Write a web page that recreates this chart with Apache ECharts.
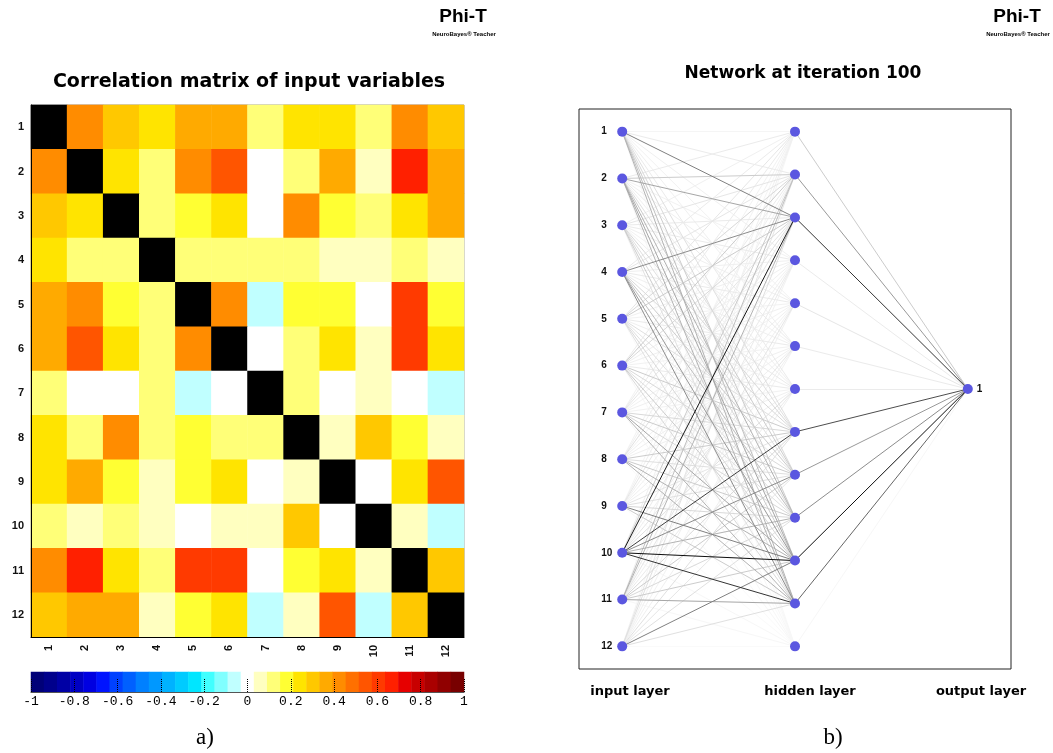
<!DOCTYPE html>
<html>
<head>
<meta charset="utf-8">
<script src="https://cdn.jsdelivr.net/npm/echarts@6/dist/echarts.min.js"></script>
<style>
html,body{margin:0;padding:0;background:#fff;}
#chart{width:1053px;height:753px;}
</style>
</head>
<body>
<div id="chart"></div>
<script>
// ---------- DATA ----------
const variableLabels = ['1','2','3','4','5','6','7','8','9','10','11','12'];

// estimated correlation coefficients (row = variable on y axis, top to bottom)
const correlations = [
  [1.00, 0.42, 0.30, 0.24, 0.36, 0.36, 0.12, 0.24, 0.24, 0.12, 0.42, 0.30],
  [0.42, 1.00, 0.24, 0.12, 0.42, 0.55, 0.00, 0.12, 0.36, 0.06, 0.67, 0.36],
  [0.30, 0.24, 1.00, 0.12, 0.18, 0.24, 0.00, 0.42, 0.18, 0.12, 0.24, 0.36],
  [0.24, 0.12, 0.12, 1.00, 0.12, 0.12, 0.12, 0.12, 0.06, 0.06, 0.12, 0.06],
  [0.36, 0.42, 0.18, 0.12, 1.00, 0.42, -0.06, 0.18, 0.18, 0.00, 0.61, 0.18],
  [0.36, 0.55, 0.24, 0.12, 0.42, 1.00, 0.00, 0.12, 0.24, 0.06, 0.61, 0.24],
  [0.12, 0.00, 0.00, 0.12, -0.06, 0.00, 1.00, 0.12, 0.00, 0.06, 0.00, -0.06],
  [0.24, 0.12, 0.42, 0.12, 0.18, 0.12, 0.12, 1.00, 0.06, 0.30, 0.18, 0.06],
  [0.24, 0.36, 0.18, 0.06, 0.18, 0.24, 0.00, 0.06, 1.00, 0.00, 0.24, 0.55],
  [0.12, 0.06, 0.12, 0.06, 0.00, 0.06, 0.06, 0.30, 0.00, 1.00, 0.06, -0.06],
  [0.42, 0.67, 0.24, 0.12, 0.61, 0.61, 0.00, 0.18, 0.24, 0.06, 1.00, 0.30],
  [0.30, 0.36, 0.36, 0.06, 0.18, 0.24, -0.06, 0.06, 0.55, -0.06, 0.30, 1.00]
];

// colour scale (-1 .. 1 in 33 steps)
const paletteColors = ['#000078','#00008c','#0000a5','#0000c3','#0000e1','#0014ff','#0041ff','#0060ff','#0080ff','#0098ff','#00b2ff','#00cbff','#00e6ff','#40ffff','#80ffff','#c0ffff','#ffffff',
  '#ffffc0','#ffff78','#ffff33','#ffe400','#ffc800','#ffaa00','#ff8c00','#ff7000','#ff5500','#ff3a00','#ff2000','#e60000','#c80000','#aa0000','#900000','#780000'];

// network
const inputNodeLabels = ['1','2','3','4','5','6','7','8','9','10','11','12'];
const hiddenNodeCount = 13;
const outputNodeLabels = ['1'];
const layerNames = ['input layer', 'hidden layer', 'output layer'];
// connection strength (0 = invisible, 1 = black), input i -> hidden j
const inputHiddenWeights = [
  [0.04, 0.08, 0.50, 0.06, 0.05, 0.06, 0.08, 0.12, 0.15, 0.20, 0.25, 0.30, 0.03],
  [0.08, 0.20, 0.35, 0.05, 0.06, 0.08, 0.06, 0.12, 0.20, 0.30, 0.35, 0.30, 0.03],
  [0.06, 0.10, 0.08, 0.08, 0.06, 0.05, 0.06, 0.15, 0.12, 0.15, 0.20, 0.12, 0.02],
  [0.08, 0.10, 0.45, 0.06, 0.08, 0.06, 0.08, 0.15, 0.20, 0.25, 0.40, 0.45, 0.03],
  [0.10, 0.15, 0.20, 0.06, 0.05, 0.08, 0.06, 0.12, 0.10, 0.12, 0.15, 0.12, 0.02],
  [0.08, 0.20, 0.15, 0.06, 0.06, 0.05, 0.08, 0.20, 0.15, 0.12, 0.20, 0.15, 0.03],
  [0.05, 0.08, 0.10, 0.06, 0.05, 0.06, 0.05, 0.15, 0.20, 0.15, 0.35, 0.30, 0.03],
  [0.05, 0.06, 0.12, 0.05, 0.06, 0.06, 0.06, 0.20, 0.12, 0.20, 0.30, 0.30, 0.02],
  [0.04, 0.06, 0.10, 0.06, 0.05, 0.06, 0.06, 0.10, 0.12, 0.15, 0.50, 0.20, 0.02],
  [0.06, 0.20, 0.90, 0.08, 0.06, 0.10, 0.12, 0.75, 0.45, 0.30, 0.95, 0.80, 0.03],
  [0.06, 0.25, 0.30, 0.08, 0.10, 0.06, 0.08, 0.15, 0.20, 0.15, 0.20, 0.35, 0.03],
  [0.04, 0.10, 0.12, 0.05, 0.06, 0.05, 0.06, 0.12, 0.10, 0.12, 0.50, 0.12, 0.02]
];
const hiddenOutputWeights = [0.20, 0.40, 0.80, 0.08, 0.10, 0.08, 0.08, 0.70, 0.40, 0.45, 0.95, 0.60, 0.03];

// ---------- BUILD ----------
const chart = echarts.init(document.getElementById('chart'), null, {renderer: 'canvas'});

const heatData = [];
correlations.forEach((row, r) => row.forEach((v, c) => heatData.push([c, r, v])));

const nBins = paletteColors.length;
const binPieces = paletteColors.map((col, k) => {
  const lo = -1 + k * 2 / nBins, hi = -1 + (k + 1) * 2 / nBins;
  return k === nBins - 1 ? {gte: lo, lt: 1, color: col} : {gte: lo, lt: hi, color: col};
});
binPieces.push({value: 1, color: '#000000'});

const colorbarData = paletteColors.map((c, k) => [k, 0, k]);
const colorbarPieces = paletteColors.map((c, k) => ({value: k, color: c}));

function grey(d) {
  const g = Math.round(255 * (1 - d));
  return 'rgb(' + g + ',' + g + ',' + g + ')';
}

const fontSans = 'Liberation Sans, Arial, Helvetica, sans-serif';
const fontWide = 'DejaVu Sans, Verdana, sans-serif';

const nodes = [];
inputNodeLabels.forEach((lab, i) => nodes.push({
  name: 'in' + i, value: [0, i / (inputNodeLabels.length - 1)],
  label: {show: true, formatter: lab, position: [-16, 5], align: 'left', verticalAlign: 'middle',
    fontSize: 10, fontWeight: 'bold', color: '#111', fontFamily: fontSans}
}));
for (let j = 0; j < hiddenNodeCount; j++) {
  nodes.push({name: 'hid' + j, value: [1, j / (hiddenNodeCount - 1)], label: {show: false}});
}
outputNodeLabels.forEach((lab, k) => nodes.push({
  name: 'out' + k, value: [2, 0.5],
  label: {show: true, formatter: lab, position: 'right', distance: 4, fontSize: 10, fontWeight: 'bold', color: '#111', fontFamily: fontSans}
}));

let links = [];
inputHiddenWeights.forEach((row, i) => row.forEach((w, j) => links.push({source: 'in' + i, target: 'hid' + j, w: w})));
hiddenOutputWeights.forEach((w, j) => links.push({source: 'hid' + j, target: 'out0', w: w}));
links.sort((a, b) => a.w - b.w);
links = links.map(l => ({source: l.source, target: l.target, lineStyle: {color: grey(l.w), width: 1, opacity: 1}}));

function layerTitle(text, x) {
  return {text: text, left: x, top: 685, textAlign: 'center', padding: 0,
    textStyle: {fontSize: 13, fontWeight: 'bold', color: '#000', fontFamily: fontWide}};
}

const option = {
  backgroundColor: '#ffffff',
  animation: false,
  title: [
    {text: 'Phi-T', left: 463, top: 7, textAlign: 'center', padding: 0, textStyle: {fontSize: 19, fontWeight: 'bold', color: '#000', fontFamily: fontSans}},
    {text: 'NeuroBayes\u00ae Teacher', left: 464, top: 31, textAlign: 'center', padding: 0, textStyle: {fontSize: 6, fontWeight: 'bold', color: '#000', fontFamily: fontSans}},
    {text: 'Phi-T', left: 1017, top: 7, textAlign: 'center', padding: 0, textStyle: {fontSize: 19, fontWeight: 'bold', color: '#000', fontFamily: fontSans}},
    {text: 'NeuroBayes\u00ae Teacher', left: 1018, top: 31, textAlign: 'center', padding: 0, textStyle: {fontSize: 6, fontWeight: 'bold', color: '#000', fontFamily: fontSans}},
    {text: 'Correlation matrix of input variables', left: 249, top: 73, textAlign: 'center', padding: 0, textStyle: {fontSize: 19, fontWeight: 'bold', color: '#000', fontFamily: fontWide}},
    {text: 'Network at iteration 100', left: 803, top: 65, textAlign: 'center', padding: 0, textStyle: {fontSize: 17, fontWeight: 'bold', color: '#000', fontFamily: fontWide}},
    layerTitle(layerNames[0], 630),
    layerTitle(layerNames[1], 810),
    layerTitle(layerNames[2], 981),
    {text: 'a)', left: 205, top: 726, textAlign: 'center', padding: 0, textStyle: {fontSize: 23, fontWeight: 'normal', color: '#000', fontFamily: 'Liberation Serif, Times New Roman, serif'}},
    {text: 'b)', left: 833, top: 726, textAlign: 'center', padding: 0, textStyle: {fontSize: 23, fontWeight: 'normal', color: '#000', fontFamily: 'Liberation Serif, Times New Roman, serif'}}
  ],
  visualMap: [
    {type: 'piecewise', show: false, seriesIndex: 0, dimension: 2, pieces: binPieces},
    {type: 'piecewise', show: false, seriesIndex: 1, dimension: 2, pieces: colorbarPieces}
  ],
  grid: [
    {left: 31, top: 105, width: 433, height: 532, show: true, borderColor: '#999', borderWidth: 1, backgroundColor: 'transparent'},
    {left: 31, top: 672, width: 433, height: 20},
    {left: 579, top: 109, width: 432, height: 560, show: true, borderColor: '#222', borderWidth: 1, backgroundColor: 'transparent'}
  ],
  xAxis: [
    {type: 'category', gridIndex: 0, data: variableLabels, position: 'bottom',
      axisLine: {show: true, lineStyle: {color: '#000', width: 1}}, axisTick: {show: false}, splitLine: {show: false},
      axisLabel: {rotate: 90, margin: 8, fontSize: 11, fontWeight: 'bold', color: '#111', fontFamily: fontSans}, z: 5},
    {type: 'category', gridIndex: 1, data: paletteColors.map((c, k) => k), show: false},
    {type: 'value', gridIndex: 1, min: -1, max: 1, interval: 0.2, position: 'bottom', z: 5,
      axisLine: {show: true, onZero: false, lineStyle: {color: '#555', width: 1}},
      axisTick: {show: true, inside: true, length: 13, lineStyle: {color: '#000', type: 'dotted', width: 1}},
      splitLine: {show: false},
      axisLabel: {margin: 3, fontSize: 13, color: '#000', fontFamily: 'Liberation Mono, Courier New, monospace',
        showMinLabel: true, showMaxLabel: true}},
    {type: 'value', gridIndex: 2, min: -0.25, max: 2.25, show: false}
  ],
  yAxis: [
    {type: 'category', gridIndex: 0, data: variableLabels, inverse: true,
      axisLine: {show: true, lineStyle: {color: '#000', width: 1}}, axisTick: {show: false}, splitLine: {show: false},
      axisLabel: {margin: 7, fontSize: 11, fontWeight: 'bold', color: '#111', fontFamily: fontSans}, z: 5},
    {type: 'category', gridIndex: 1, data: [''], show: false},
    {type: 'value', gridIndex: 2, min: -0.044, max: 1.044, inverse: true, show: false}
  ],
  series: [
    {type: 'heatmap', xAxisIndex: 0, yAxisIndex: 0, data: heatData, silent: true,
      itemStyle: {borderWidth: 0}, emphasis: {disabled: true}},
    {type: 'heatmap', xAxisIndex: 1, yAxisIndex: 1, data: colorbarData, silent: true,
      itemStyle: {borderWidth: 0}, emphasis: {disabled: true}},
    {type: 'graph', coordinateSystem: 'cartesian2d', xAxisIndex: 3, yAxisIndex: 2, layout: 'none',
      symbol: 'circle', symbolSize: 10, silent: true,
      itemStyle: {color: '#5b57e0', opacity: 1},
      lineStyle: {width: 1, opacity: 1, curveness: 0},
      data: nodes, links: links, emphasis: {disabled: true}}
  ]
};
chart.setOption(option);
</script>
</body>
</html>
